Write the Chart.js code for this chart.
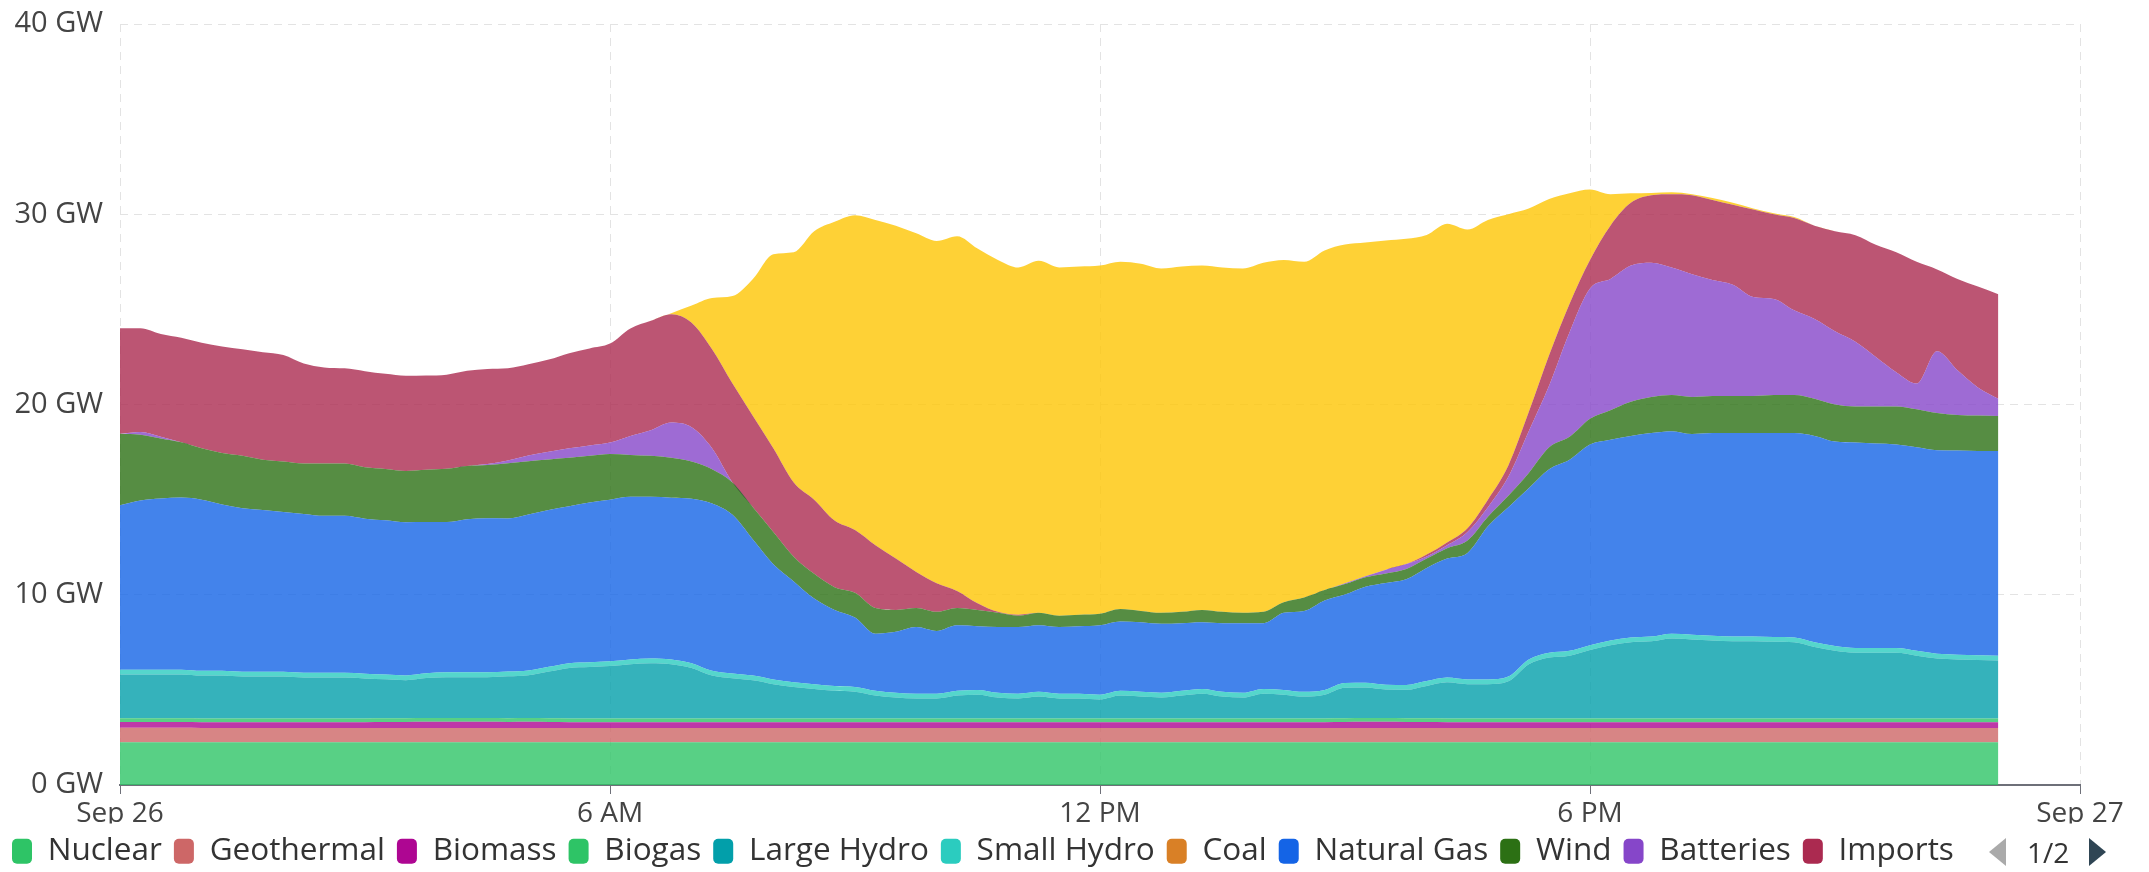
<!DOCTYPE html>
<html>
<head>
<meta charset="utf-8">
<script src="https://cdn.jsdelivr.net/npm/chart.js@4.4.1/dist/chart.umd.min.js"></script>
<style>
  html, body { margin: 0; padding: 0; background: #fff; overflow: hidden; }
  #wrap { position: relative; width: 2149px; height: 877px; }
  #pager { position: absolute; left: 1989px; top: 837px; height: 30px; display: flex; align-items: center;
           font-family: 'Open Sans', sans-serif; font-size: 28px; color: #333; }
  .arr { width: 0; height: 0; border-top: 14px solid transparent; border-bottom: 14px solid transparent; }
  .prev { border-right: 17px solid #aaa; margin-right: 21px; }
  .next { border-left: 17px solid #2f4554; margin-left: 20px; }
</style>
</head>
<body>
<div id="wrap">
  <canvas id="mix"></canvas>
  <div id="pager"><div class="arr prev"></div><span>1/2</span><div class="arr next"></div></div>
</div>
<script>
// 15-minute samples, Sep 26
const times = [
  "00:00","00:15","00:30","00:45","01:00","01:15","01:30","01:45","02:00","02:15",
  "02:30","02:45","03:00","03:15","03:30","03:45","04:00","04:15","04:30","04:45",
  "05:00","05:15","05:30","05:45","06:00","06:15","06:30","06:45","07:00","07:15",
  "07:30","07:45","08:00","08:15","08:30","08:45","09:00","09:15","09:30","09:45",
  "10:00","10:15","10:30","10:45","11:00","11:15","11:30","11:45","12:00","12:15",
  "12:30","12:45","13:00","13:15","13:30","13:45","14:00","14:15","14:30","14:45",
  "15:00","15:15","15:30","15:45","16:00","16:15","16:30","16:45","17:00","17:15",
  "17:30","17:45","18:00","18:15","18:30","18:45","19:00","19:15","19:30","19:45",
  "20:00","20:15","20:30","20:45","21:00","21:15","21:30","21:45","22:00","22:15",
  "22:30","22:45","23:00"];

// GW, one value per sample
const nuclear = [
  2.25,2.25,2.25,2.25,2.25,2.25,2.25,2.25,2.25,2.25, 2.25,2.25,2.25,2.25,2.25,2.25,2.25,2.25,2.25,2.25,
  2.25,2.25,2.25,2.25,2.25,2.25,2.25,2.25,2.25,2.25, 2.25,2.25,2.25,2.25,2.25,2.25,2.25,2.25,2.25,2.25,
  2.25,2.25,2.25,2.25,2.25,2.25,2.25,2.25,2.25,2.25, 2.25,2.25,2.25,2.25,2.25,2.25,2.25,2.25,2.25,2.25,
  2.25,2.25,2.25,2.25,2.25,2.25,2.25,2.25,2.25,2.25, 2.25,2.25,2.25,2.25,2.25,2.25,2.25,2.25,2.25,2.25,
  2.25,2.25,2.25,2.25,2.25,2.25,2.25,2.25,2.25,2.25, 2.25,2.25,2.25];
const geothermal = [
  0.76,0.76,0.76,0.76,0.75,0.75,0.75,0.75,0.75,0.75, 0.75,0.75,0.75,0.75,0.74,0.74,0.74,0.74,0.74,0.74,
  0.75,0.75,0.75,0.75,0.75,0.75,0.75,0.75,0.75,0.75, 0.75,0.75,0.75,0.75,0.75,0.75,0.75,0.75,0.75,0.75,
  0.75,0.75,0.75,0.75,0.75,0.75,0.75,0.75,0.75,0.75, 0.75,0.75,0.75,0.75,0.75,0.75,0.75,0.75,0.75,0.75,
  0.74,0.74,0.74,0.74,0.75,0.75,0.75,0.75,0.75,0.75, 0.75,0.75,0.75,0.75,0.75,0.75,0.75,0.75,0.75,0.75,
  0.75,0.75,0.75,0.75,0.75,0.75,0.75,0.75,0.75,0.75, 0.75,0.75,0.75];
const biomass = [
  0.3,0.3,0.3,0.3,0.3,0.3,0.3,0.3,0.3,0.3, 0.3,0.3,0.3,0.31,0.32,0.33,0.33,0.33,0.33,0.32,
  0.32,0.31,0.3,0.3,0.3,0.3,0.3,0.3,0.3,0.3, 0.3,0.3,0.3,0.3,0.3,0.3,0.3,0.3,0.3,0.3,
  0.3,0.3,0.3,0.3,0.3,0.3,0.3,0.3,0.3,0.3, 0.3,0.3,0.3,0.3,0.3,0.3,0.3,0.3,0.3,0.3,
  0.32,0.33,0.33,0.32,0.31,0.3,0.3,0.3,0.3,0.3, 0.3,0.3,0.3,0.3,0.3,0.3,0.3,0.3,0.3,0.3,
  0.3,0.3,0.3,0.3,0.3,0.3,0.3,0.3,0.3,0.3, 0.3,0.3,0.3];
const biogas = [
  0.2,0.2,0.2,0.2,0.2,0.2,0.2,0.2,0.2,0.2, 0.2,0.2,0.2,0.2,0.2,0.2,0.2,0.2,0.2,0.2,
  0.2,0.2,0.2,0.2,0.2,0.2,0.2,0.2,0.2,0.2, 0.2,0.2,0.2,0.2,0.2,0.2,0.2,0.2,0.2,0.2,
  0.2,0.2,0.2,0.2,0.2,0.2,0.2,0.2,0.2,0.2, 0.2,0.2,0.2,0.2,0.2,0.2,0.2,0.2,0.2,0.2,
  0.2,0.2,0.2,0.2,0.2,0.2,0.2,0.2,0.2,0.2, 0.2,0.2,0.2,0.2,0.2,0.2,0.2,0.2,0.2,0.2,
  0.2,0.2,0.2,0.2,0.2,0.2,0.2,0.2,0.2,0.2, 0.2,0.2,0.2];
const largeHydro = [
  2.3,2.3,2.3,2.3,2.25,2.25,2.2,2.2,2.2,2.15, 2.15,2.15,2.1,2.05,2.0,2.1,2.15,2.15,2.15,2.2,
  2.25,2.45,2.65,2.7,2.75,2.85,2.9,2.85,2.65,2.25, 2.11,2.0,1.8,1.65,1.55,1.45,1.4,1.2,1.1,1.05,
  1.05,1.2,1.25,1.1,1.05,1.15,1.05,1.05,1.0,1.2, 1.15,1.1,1.2,1.3,1.15,1.1,1.3,1.25,1.15,1.25,
  1.6,1.6,1.5,1.5,1.7,1.9,1.8,1.8,1.95,2.85, 3.2,3.3,3.6,3.85,4.0,4.05,4.2,4.15,4.1,4.05,
  4.05,4.03,4.0,3.75,3.55,3.45,3.45,3.45,3.3,3.15, 3.1,3.07,3.05];
const smallHydro = [
  0.25,0.25,0.25,0.25,0.25,0.25,0.25,0.25,0.25,0.25, 0.25,0.25,0.25,0.25,0.25,0.25,0.25,0.25,0.25,0.25,
  0.25,0.25,0.25,0.25,0.25,0.25,0.25,0.25,0.25,0.25, 0.25,0.25,0.25,0.25,0.25,0.25,0.25,0.25,0.25,0.25,
  0.25,0.25,0.25,0.25,0.25,0.25,0.25,0.25,0.25,0.25, 0.25,0.25,0.25,0.25,0.25,0.25,0.25,0.25,0.25,0.25,
  0.25,0.25,0.25,0.25,0.25,0.25,0.25,0.25,0.25,0.25, 0.25,0.25,0.25,0.25,0.25,0.25,0.25,0.25,0.25,0.25,
  0.25,0.25,0.25,0.25,0.25,0.25,0.25,0.25,0.25,0.25, 0.25,0.25,0.25];
const coal = [
  0,0,0,0,0,0,0,0,0,0, 0,0,0,0,0,0,0,0,0,0,
  0,0,0,0,0,0,0,0,0,0, 0,0,0,0,0,0,0,0,0,0,
  0,0,0,0,0,0,0,0,0,0, 0,0,0,0,0,0,0,0,0,0,
  0,0,0,0,0,0,0,0,0,0, 0,0,0,0,0,0,0,0,0,0,
  0,0,0,0,0,0,0,0,0,0, 0,0,0];
const naturalGas = [
  8.65,8.9,9.0,9.05,9.0,8.75,8.6,8.5,8.4,8.35, 8.25,8.25,8.15,8.1,8.05,7.95,7.9,8.05,8.1,8.05,
  8.2,8.25,8.25,8.4,8.5,8.55,8.5,8.5,8.65,8.8, 8.34,7.15,6.05,5.3,4.5,4.0,3.65,3.0,3.2,3.5,
  3.3,3.45,3.35,3.45,3.5,3.5,3.5,3.55,3.65,3.65, 3.65,3.62,3.55,3.5,3.6,3.65,3.45,4.05,4.25,4.7,
  4.65,5.05,5.35,5.55,5.95,6.25,6.65,8.05,8.9,9.0, 9.65,10.05,10.55,10.55,10.6,10.7,10.65,10.55,10.65,10.7,
  10.7,10.72,10.75,10.85,10.75,10.8,10.75,10.7,10.7,10.7, 10.73,10.74,10.75];
const wind = [
  3.75,3.45,3.15,2.9,2.7,2.7,2.75,2.65,2.65,2.65, 2.75,2.75,2.7,2.7,2.7,2.75,2.8,2.8,2.8,2.9,
  2.8,2.65,2.55,2.45,2.4,2.2,2.15,2.1,1.95,1.8, 1.7,1.7,1.7,1.3,1.3,1.2,1.3,1.35,1.15,1.0,
  1.0,0.9,0.85,0.75,0.6,0.65,0.6,0.6,0.6,0.65, 0.6,0.58,0.6,0.65,0.6,0.55,0.6,0.55,0.7,0.55,
  0.55,0.5,0.5,0.55,0.5,0.55,0.65,0.5,0.6,0.8, 1.15,1.2,1.35,1.55,1.8,1.9,1.9,1.95,1.95,1.95,
  1.95,2.0,2.0,1.95,1.95,1.9,1.95,2.0,2.0,1.95, 1.87,1.86,1.85];
const batteries = [
  0,0.15,0.1,0,0,0,0,0,0,0, 0,0,0,0,0,0,0,0,0.05,0.15,
  0.3,0.4,0.5,0.55,0.6,1.0,1.35,1.85,1.8,1.1, 0,0,0,0,0,0,0,0,0,0,
  0,0,0,0,0,0,0,0,0,0, 0,0,0,0,0,0,0,0,0,0,
  0.05,0.05,0.2,0.25,0.1,0.15,0.45,0.5,1.0,2.2, 3.25,5.5,6.85,6.9,7.15,7.05,6.7,6.45,6.1,5.85,
  5.2,5.05,4.45,4.2,3.85,3.4,2.6,1.8,1.35,3.25, 2.35,1.48,0.9];
const imports = [
  5.55,5.45,5.4,5.5,5.55,5.6,5.6,5.65,5.6,5.25, 5.05,5.0,5.05,5.0,5.0,4.95,4.95,5.0,5.0,4.85,
  4.8,4.85,5.0,5.1,5.2,5.65,5.75,5.7,5.5,5.2, 5.2,4.8,4.4,3.9,3.9,3.5,3.3,3.3,2.7,1.9,
  1.5,0.9,0.35,0.05,0.05,0,0,0,0,0, 0,0,0,0,0,0,0,0,0,0,
  0,0,0,0,0.1,0.15,0.2,0.4,0.6,1.0, 1.6,1.5,1.5,2.8,3.3,3.55,3.85,4.15,4.2,4.2,
  4.6,4.45,4.85,4.9,5.25,5.6,5.9,6.3,6.4,4.3, 4.8,5.3,5.5];
const solar = [
  0,0,0,0,0,0,0,0,0,0, 0,0,0,0,0,0,0,0,0,0,
  0,0,0,0,0,0,0,0.05,0.9,2.7, 4.6,7.2,10.2,12.1,14.1,15.7,16.55,17.1,17.5,17.8,
  18.0,18.65,18.65,18.5,18.25,18.5,18.3,18.3,18.3,18.25, 18.25,18.1,18.15,18.1,18.1,18.1,18.35,18.0,17.65,17.85,
  17.8,17.55,17.3,17.1,16.8,16.75,15.7,14.7,13.2,10.7, 8.2,5.8,3.7,1.65,0.5,0.12,0.1,0.05,0.1,0.1,
  0.05,0.05,0.05,0,0,0,0,0,0,0, 0,0,0];

const xTickLabels = ["Sep 26", "6 AM", "12 PM", "6 PM", "Sep 27"];

// stack order bottom -> top
const sources = [
  { name: "Nuclear", values: nuclear, color: "#2ec466" },
  { name: "Geothermal", values: geothermal, color: "#cd6767" },
  { name: "Biomass", values: biomass, color: "#ae0692" },
  { name: "Biogas", values: biogas, color: "#2ec466" },
  { name: "Large Hydro", values: largeHydro, color: "#029faa" },
  { name: "Small Hydro", values: smallHydro, color: "#2bccbf" },
  { name: "Coal", values: coal, color: "#d98026" },
  { name: "Natural Gas", values: naturalGas, color: "#1464e6" },
  { name: "Wind", values: wind, color: "#2c7014" },
  { name: "Batteries", values: batteries, color: "#8646c9" },
  { name: "Imports", values: imports, color: "#ab2a50" },
  { name: "Solar", values: solar, color: "#fec604" }
];

function toHours(t) {
  const [h, m] = t.split(":").map(Number);
  return h + m / 60;
}

function withAlpha(hex, a) {
  const r = parseInt(hex.slice(1, 3), 16), g = parseInt(hex.slice(3, 5), 16), b = parseInt(hex.slice(5, 7), 16);
  return `rgba(${r}, ${g}, ${b}, ${a})`;
}

Chart.defaults.font.family = "'Open Sans', sans-serif";

const datasets = sources.map((s, i) => ({
  label: s.name,
  data: s.values.map((v, j) => ({ x: toHours(times[j]), y: v })),
  backgroundColor: withAlpha(s.color, 0.8),
  borderWidth: 0,
  pointRadius: 0,
  cubicInterpolationMode: "monotone",
  fill: i === 0 ? "origin" : "-1"
}));

new Chart(document.getElementById("mix"), {
  type: "line",
  data: { datasets },
  options: {
    responsive: true,
    maintainAspectRatio: false,
    animation: false,
    layout: { padding: { left: 0, right: 69, top: 24, bottom: 0 } },
    scales: {
      x: {
        type: "linear",
        min: 0,
        max: 24,
        ticks: {
          stepSize: 6,
          autoSkip: false,
          maxRotation: 0,
          padding: 6,
          color: "#444",
          font: { size: 28, lineHeight: 1 },
          callback: v => xTickLabels[v / 6]
        },
        grid: { color: "#e3e3e3", tickColor: "#6e7079", tickLength: 9, tickBorderDash: [] },
        border: { color: "#6e7079", width: 2, dash: [8, 6] },
        afterFit: scale => { scale.height = 38.5; }
      },
      y: {
        stacked: true,
        min: 0,
        max: 40,
        ticks: {
          stepSize: 10,
          padding: 0,
          color: "#444",
          font: { size: 29 },
          callback: v => v + " GW"
        },
        // invisible tick marks push the labels left without adding top padding
        grid: { color: "#e3e3e3", drawTicks: true, tickLength: 17, tickColor: "rgba(0,0,0,0)" },
        border: { display: false, dash: [8, 6] },
        afterFit: scale => { scale.width = 120; }
      }
    },
    plugins: {
      legend: {
        position: "bottom",
        align: "start",
        labels: {
          color: "#333",
          font: { size: 31.5 },
          boxWidth: 20,
          boxHeight: 25,
          padding: 12,
          useBorderRadius: true,
          borderRadius: 5,
          generateLabels: chart => sources
            .map((s, i) => ({
              text: s.name,
              fillStyle: s.color,
              strokeStyle: s.color,
              lineWidth: 0,
              borderRadius: 5,
              fontColor: "#333",
              hidden: false,
              datasetIndex: i
            }))
            .filter(item => item.text !== "Solar")
        }
      },
      tooltip: { enabled: false }
    }
  }
});
</script>
</body>
</html>
